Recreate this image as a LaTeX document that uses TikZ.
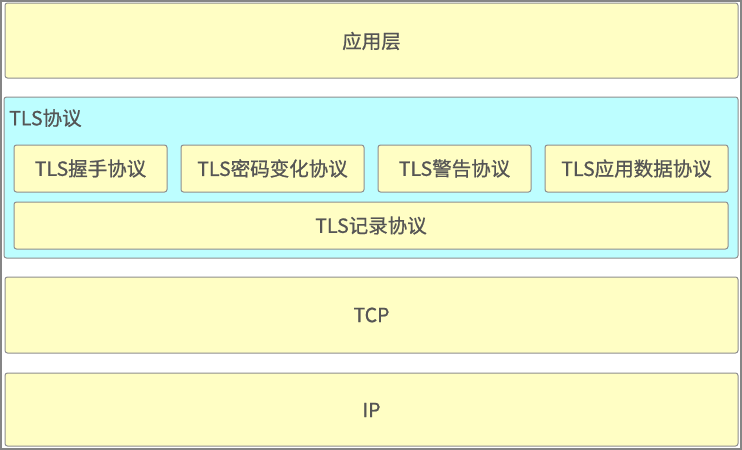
\documentclass[tikz,border=0pt]{standalone}
\usepackage{fontspec}
\setmainfont{Noto Sans CJK SC}
\newfontfamily\lblfont[FakeBold=0.8]{Noto Sans CJK SC}
\begin{document}
\begin{tikzpicture}[x=1pt,y=-1pt,
  yel/.style={draw=boxgray, fill=yelfill, line width=1pt, rounded corners=2.5pt},
  cy/.style={draw=boxgray, fill=cyfill, line width=1pt, rounded corners=2.5pt},
  lbl/.style={text=txtgray, inner sep=0pt, font=\lblfont\fontsize{19.5pt}{22pt}\selectfont}]
\definecolor{yelfill}{HTML}{FFFEC4}
\definecolor{cyfill}{HTML}{BDFEFF}
\definecolor{boxgray}{HTML}{8E8E8E}
\definecolor{txtgray}{HTML}{555555}
\definecolor{framegray}{HTML}{858585}
\useasboundingbox (0,0) rectangle (742,450);
\fill[white] (0,0) rectangle (742,450);
\draw[framegray, line width=2.5pt] (1.2,1) rectangle (741,449);
% application layer
\draw[yel] (5,3) rectangle (738,78);
\node[lbl] (app) at (371.5,41) {应用层};
% TLS container
\draw[cy] (4,97) rectangle (738,258);
\node[lbl, anchor=west] (tls) at (9,118) {TLS协议};
% sub-protocols
\draw[yel] (14,145) rectangle (167,192);
\node[lbl] (hs) at (90.5,168.5) {TLS握手协议};
\draw[yel] (181,145) rectangle (364,192);
\node[lbl] (ccs) at (272.5,168.5) {TLS密码变化协议};
\draw[yel] (378,145) rectangle (531,192);
\node[lbl] (al) at (454.5,168.5) {TLS警告协议};
\draw[yel] (545,145) rectangle (728,192);
\node[lbl] (ad) at (636.5,168.5) {TLS应用数据协议};
\draw[yel] (14,202) rectangle (728,249);
\node[lbl] (rec) at (371,225.5) {TLS记录协议};
% TCP
\draw[yel] (5,277) rectangle (738,353);
\node[lbl] (tcp) at (371.5,315) {TCP};
% IP
\draw[yel] (5,373) rectangle (738,446);
\node[lbl] (ip) at (371.5,410) {IP};
\end{tikzpicture}
\end{document}
